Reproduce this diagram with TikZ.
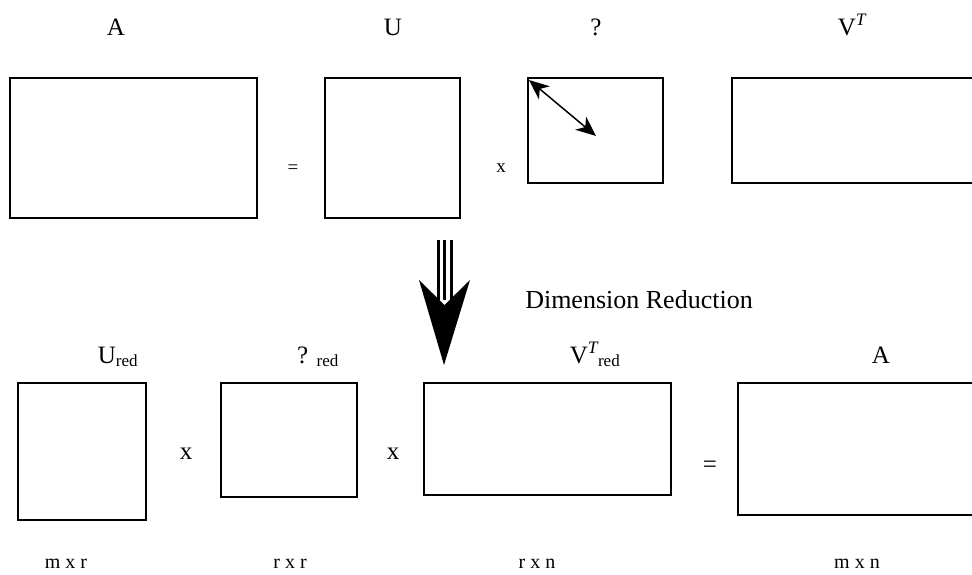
\documentclass[tikz,border=0pt]{standalone}
\usepackage{fontspec}
\setmainfont{Liberation Serif}
\usetikzlibrary{arrows.meta}
\tikzset{
  mat/.style={draw, line width=1.4pt, inner sep=0pt, outer sep=0pt},
  lbl/.style={font=\fontsize{25}{29}\selectfont, anchor=base, inner sep=0pt},
  op/.style={font=\fontsize{19}{22}\selectfont, anchor=base, inner sep=0pt},
  dim/.style={font=\fontsize{20}{24}\selectfont, anchor=base, inner sep=0pt},
  redsub/.style={},
}
\newcommand{\rd}{\textsubscript{\fontsize{17}{19}\selectfont red}}
\begin{document}
\begin{tikzpicture}[x=1pt,y=-1pt]
\useasboundingbox (0,0) rectangle (972,574);
% top row matrices
\node[mat, minimum width=247pt, minimum height=140pt] (A) at (133.5,148) {};
\node[mat, minimum width=135pt, minimum height=140pt] (U) at (392.5,148) {};
\node[mat, minimum width=135pt, minimum height=105pt] (S) at (595.5,130.5) {};
\node[mat, minimum width=241pt, minimum height=105pt] (VT) at (852.5,130.5) {};
% top labels
\node[lbl] (lA) at (116,35) {A};
\node[lbl] (lU) at (393,35) {U};
\node[lbl] (lS) at (596,35) {?};
\node[lbl] (lV) at (852,35) {V\textsuperscript{\itshape T}};
\node[op] (eq1) at (293,173) {=};
\node[op] (x1) at (501,172) {x};
% sigma double arrow
\coordinate (s1) at (529,80);
\coordinate (s2) at (596,136);
\draw[line width=1.5pt, {Stealth[length=20pt,width=17pt,inset=6pt]}-{Stealth[length=20pt,width=17pt,inset=6pt]}] (s1) -- (s2);
% big arrow
\coordinate (tip) at (444,365);
\draw[line width=3pt] (438,240) -- (438,300) (444.5,240) -- (444.5,300) (451,240) -- (451,300);
\fill (419,280) -- (444.5,305) -- (470,280) -- (tip) -- cycle;
\node[lbl, font=\fontsize{26}{30}\selectfont] (dr) at (639,308) {Dimension Reduction};
% bottom row
\node[mat, minimum width=128pt, minimum height=137pt] (Ur) at (82,451.5) {};
\node[mat, minimum width=136pt, minimum height=114pt] (Sr) at (289,440) {};
\node[mat, minimum width=247pt, minimum height=112pt] (Vr) at (547.5,439) {};
\node[mat, minimum width=236pt, minimum height=132pt] (Ar) at (856,449) {};
\node[lbl] (lUr) at (118,363) {U\rd};
\node[lbl] (lSr) at (318,363) {? \rd};
\node[lbl] (lVr) at (595,363) {V\textsuperscript{\itshape T}\rd};
\node[lbl] (lAr) at (881,363) {A};
\node[lbl] (x2) at (186,459) {x};
\node[lbl] (x3) at (393,459) {x};
\node[lbl] (eq2) at (710,472) {=};
\node[dim] (d1) at (66,568) {m x r};
\node[dim] (d2) at (290,568) {r x r};
\node[dim] (d3) at (537,568) {r x n};
\node[dim] (d4) at (857,568) {m x n};
\end{tikzpicture}
\end{document}
